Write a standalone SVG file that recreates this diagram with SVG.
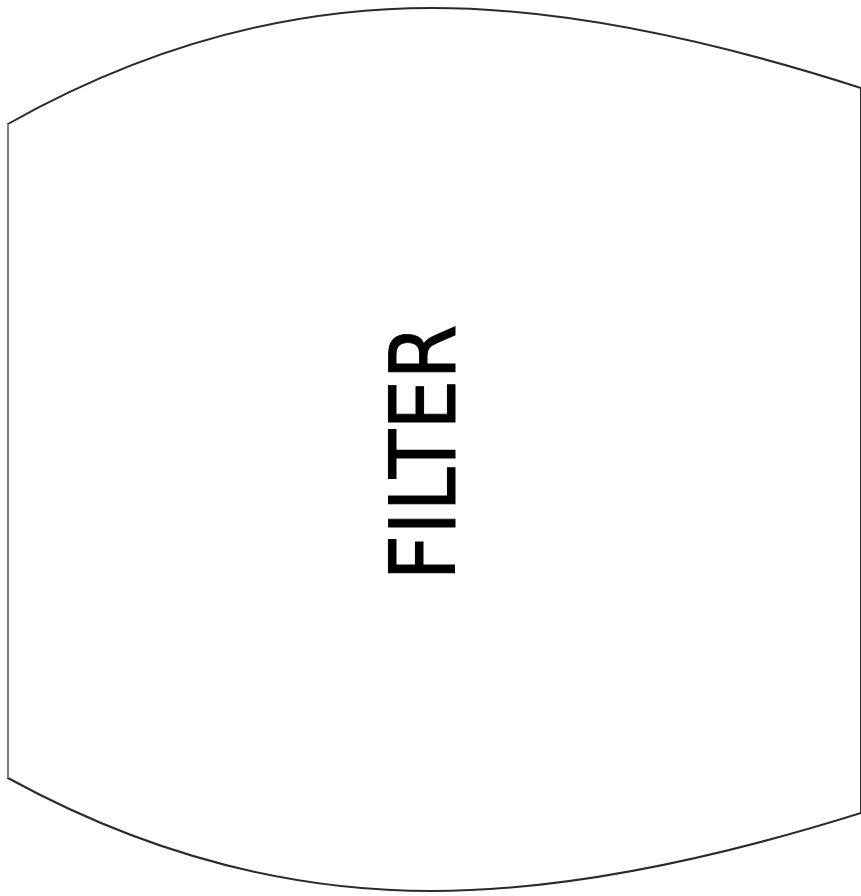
<svg xmlns="http://www.w3.org/2000/svg" width="861" height="896" viewBox="0 0 861 896">
<style>
.outline{fill:#fff;stroke:#2a2a2a;stroke-width:2}
.edge{fill:none;stroke:#808080;stroke-width:2}
.label{font-family:"DejaVu Sans","Liberation Sans",sans-serif;font-size:90px;fill:#000;stroke:#000;stroke-width:1}
</style>
<rect width="861" height="896" fill="#fff"/>
<g id="filter">
<path class="outline" d="M8,124 Q214,8 432,8 Q612,8 861,88 L861,813 Q612,891 432,891 Q214,891 8,778 Z"/>
<path class="edge" d="M8,124 L8,778"/>
<text class="label" transform="translate(455,452.5) rotate(-90)" x="0" y="0" text-anchor="middle" textLength="256" lengthAdjust="spacingAndGlyphs">FILTER</text>
</g>
</svg>
